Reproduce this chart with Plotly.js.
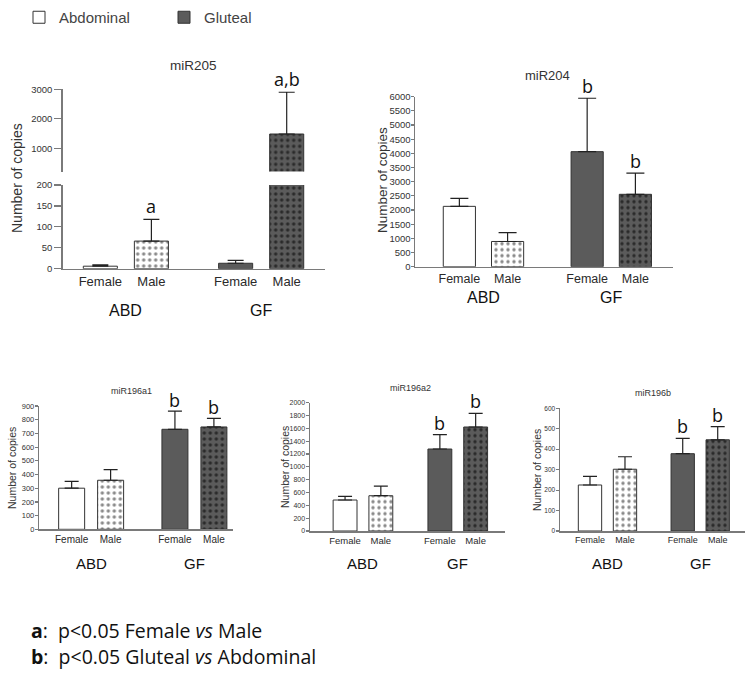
<!DOCTYPE html>
<html>
<head>
<meta charset="utf-8">
<script src="https://cdn.plot.ly/plotly-3.0.1.min.js"></script>
<style>html,body{margin:0;padding:0;background:#fff;}#chart{width:752px;height:682px;}</style>
</head>
<body>
<div id="chart"></div>
<script>
// ---------------- data ----------------
const sexes = ["Female", "Male"];
const tissues = ["ABD", "GF"];
const legendNames = ["Abdominal", "Gluteal"];

const mir205_abd = [6, 66];       const mir205_abd_err = [3, 52];
const mir205_gf  = [13, 1485];    const mir205_gf_err  = [7, 1415];
const mir204_abd = [2130, 890];   const mir204_abd_err = [280, 310];
const mir204_gf  = [4060, 2555];  const mir204_gf_err  = [1885, 745];
const mir196a1_abd = [300, 358];  const mir196a1_abd_err = [50, 77];
const mir196a1_gf  = [730, 747];  const mir196a1_gf_err  = [133, 63];
const mir196a2_abd = [483, 550];  const mir196a2_abd_err = [58, 151];
const mir196a2_gf  = [1278, 1621];const mir196a2_gf_err  = [223, 214];
const mir196b_abd = [225, 302];   const mir196b_abd_err = [42, 61];
const mir196b_gf  = [378, 446];   const mir196b_gf_err  = [75, 64];

const mir205_sig = ["", "a", "", "a,b"];
const mir204_sig = ["", "", "b", "b"];
const mir196a1_sig = ["", "", "b", "b"];
const mir196a2_sig = ["", "", "b", "b"];
const mir196b_sig = ["", "", "b", "b"];

const noteA = "<b>a</b>:  p<0.05 Female <i>vs</i> Male";
const noteB = "<b>b</b>:  p<0.05 Gluteal <i>vs</i> Abdominal";

// ---------------- layout helpers ----------------
const W = 752, H = 682;
const GROUP_STEP = 2.65;
const BAR_W = 0.667;
const fx = p => p / W;
const fy = p => 1 - p / H;
const FONT = "Liberation Sans, Arial, sans-serif";

const pos = (ti) => sexes.map((s, si) => ti * GROUP_STEP + si);
const allPos = tissues.flatMap((t, ti) => pos(ti));
const allTickText = tissues.flatMap(() => sexes);

const styles = [
  {color: "#ffffff", bg: "#ffffff", fg: "#8a8a8a", line: "#333333"},
  {color: "#5b5b5b", bg: "#5b5b5b", fg: "#2a2a2a", line: "#333333"}
];

function barTrace(vals, errs, ti, xa, ya, capW, showLegend) {
  const st = styles[ti];
  return {
    type: "bar", x: pos(ti), y: vals, width: BAR_W,
    xaxis: xa, yaxis: ya,
    name: legendNames[ti], showlegend: showLegend, legendgroup: legendNames[ti],
    marker: {
      color: st.color,
      line: {color: st.line, width: 1},
      pattern: {shape: ["", "."], bgcolor: st.bg, fgcolor: st.fg, size: 6, solidity: 0.25, fillmode: "replace"}
    },
    error_y: {type: "data", symmetric: false, array: errs, arrayminus: errs.map(() => 0),
              color: "#222", thickness: 1.2, width: capW},
    hoverinfo: "skip"
  };
}

function xAxis(d0, d1, r0, r1, fs, anchor) {
  return {domain: [fx(d0), fx(d1)], range: [r0, r1], anchor: anchor,
    tickvals: allPos, ticktext: allTickText, tickfont: {size: fs, color: "#2a2a2a", family: FONT},
    showline: true, linecolor: "#7a7a7a", linewidth: 1.5, ticks: "", showgrid: false, zeroline: false,
    automargin: false, fixedrange: true};
}
function yAxis(b, t, r0, r1, dtick, fs, anchor, tlen, standoff, extra) {
  return Object.assign({domain: [fy(b), fy(t)], range: [r0, r1], anchor: anchor, dtick: dtick,
    tickfont: {size: fs, color: "#333", family: FONT}, showline: true, linecolor: "#7a7a7a", linewidth: 1.5,
    ticks: "outside", ticklen: tlen, tickcolor: "#7a7a7a", tickwidth: 1.2, ticklabelstandoff: standoff,
    showgrid: false, zeroline: false, automargin: false, fixedrange: true}, extra || {});
}

const data = [
  // miR205 lower
  barTrace(mir205_abd, mir205_abd_err, 0, "x", "y", 8, true),
  barTrace(mir205_gf, mir205_gf_err, 1, "x", "y", 8, true),
  // miR205 upper (broken axis)
  barTrace(mir205_abd, mir205_abd_err, 0, "x2", "y2", 8, false),
  barTrace(mir205_gf, mir205_gf_err, 1, "x2", "y2", 8, false),
  // miR204
  barTrace(mir204_abd, mir204_abd_err, 0, "x3", "y3", 9, false),
  barTrace(mir204_gf, mir204_gf_err, 1, "x3", "y3", 9, false),
  // miR196a1
  barTrace(mir196a1_abd, mir196a1_abd_err, 0, "x4", "y4", 7, false),
  barTrace(mir196a1_gf, mir196a1_gf_err, 1, "x4", "y4", 7, false),
  // miR196a2
  barTrace(mir196a2_abd, mir196a2_abd_err, 0, "x5", "y5", 7, false),
  barTrace(mir196a2_gf, mir196a2_gf_err, 1, "x5", "y5", 7, false),
  // miR196b
  barTrace(mir196b_abd, mir196b_abd_err, 0, "x6", "y6", 7, false),
  barTrace(mir196b_gf, mir196b_gf_err, 1, "x6", "y6", 7, false)
];

const annotations = [];
function ann(o) { annotations.push(Object.assign({showarrow: false, font: {family: FONT, size: 12, color: "#222"}}, o)); }

function panelText(cfg) {
  ann({text: cfg.title, xref: "paper", yref: "paper", x: fx(cfg.titleX), y: fy(cfg.titleY),
       xanchor: "center", yanchor: "middle", font: {family: FONT, size: cfg.titleFs, color: "#333"}});
  ann({text: "Number of copies", xref: "paper", yref: "paper", x: fx(cfg.ytX), y: fy(cfg.ytY),
       textangle: -90, xanchor: "center", yanchor: "middle", font: {family: FONT, size: cfg.ytFs, color: "#333"}});
  tissues.forEach((t, ti) => {
    ann({text: t, xref: cfg.xa, yref: "paper", x: ti * GROUP_STEP + 0.5, y: fy(cfg.groupY),
         xanchor: "center", yanchor: "middle", font: {family: FONT, size: cfg.groupFs, color: "#111"}});
  });
  const vals = cfg.abd.concat(cfg.gf), errs = cfg.abdErr.concat(cfg.gfErr);
  cfg.sig.forEach((s, i) => {
    if (!s) return;
    const ya = (cfg.sigAxis && cfg.sigAxis[i]) || cfg.ya;
    ann({text: s, xref: cfg.xa, yref: ya, x: allPos[i], y: vals[i] + errs[i],
         xanchor: "center", yanchor: "bottom", yshift: cfg.sigShift,
         font: {family: "Open Sans, Liberation Sans, sans-serif", size: cfg.sigFs, color: "#111"}});
  });
}

panelText({title: "miR205", titleX: 193, titleY: 65, titleFs: 13.5, ytX: 17, ytY: 178, ytFs: 14,
  groupY: 310, groupFs: 16, xa: "x", ya: "y", abd: mir205_abd, gf: mir205_gf, abdErr: mir205_abd_err, gfErr: mir205_gf_err,
  sig: mir205_sig, sigAxis: [null, "y", null, "y2"], sigFs: 18, sigShift: -1});
panelText({title: "miR204", titleX: 547, titleY: 75, titleFs: 13, ytX: 382, ytY: 180, ytFs: 13.5,
  groupY: 297, groupFs: 16, xa: "x3", ya: "y3", abd: mir204_abd, gf: mir204_gf, abdErr: mir204_abd_err, gfErr: mir204_gf_err,
  sig: mir204_sig, sigFs: 18, sigShift: -2});
panelText({title: "miR196a1", titleX: 131, titleY: 391, titleFs: 9, ytX: 12, ytY: 468, ytFs: 10.5,
  groupY: 563, groupFs: 15, xa: "x4", ya: "y4", abd: mir196a1_abd, gf: mir196a1_gf, abdErr: mir196a1_abd_err, gfErr: mir196a1_gf_err,
  sig: mir196a1_sig, sigFs: 18, sigShift: -3});
panelText({title: "miR196a2", titleX: 410, titleY: 388, titleFs: 9, ytX: 285, ytY: 467, ytFs: 10.5,
  groupY: 563, groupFs: 15, xa: "x5", ya: "y5", abd: mir196a2_abd, gf: mir196a2_gf, abdErr: mir196a2_abd_err, gfErr: mir196a2_gf_err,
  sig: mir196a2_sig, sigFs: 18, sigShift: -2});
panelText({title: "miR196b", titleX: 653, titleY: 393, titleFs: 9, ytX: 537, ytY: 470, ytFs: 10.5,
  groupY: 563, groupFs: 15, xa: "x6", ya: "y6", abd: mir196b_abd, gf: mir196b_gf, abdErr: mir196b_abd_err, gfErr: mir196b_gf_err,
  sig: mir196b_sig, sigFs: 18, sigShift: -2});

// footnotes
const NOTE_FONT = "Open Sans, Lato, sans-serif";
ann({text: noteA, xref: "paper", yref: "paper", x: fx(29), y: fy(630),
     xanchor: "left", yanchor: "middle", align: "left", font: {family: NOTE_FONT, size: 19.5, color: "#111"}});
ann({text: noteB, xref: "paper", yref: "paper", x: fx(29), y: fy(656),
     xanchor: "left", yanchor: "middle", align: "left", font: {family: NOTE_FONT, size: 19.5, color: "#111"}});

const layout = {
  width: W, height: H, margin: {l: 0, r: 0, t: 0, b: 0},
  paper_bgcolor: "#fff", plot_bgcolor: "rgba(0,0,0,0)",
  barmode: "overlay", font: {family: FONT},
  showlegend: true,
  legend: {orientation: "h", x: fx(19), y: fy(1), xanchor: "left", yanchor: "top",
           font: {family: FONT, size: 15, color: "#444"}, entrywidth: 100, bgcolor: "rgba(0,0,0,0)"},
  xaxis:  xAxis(62.7, 325, -0.737, 4.40, 13, "y"),
  yaxis:  yAxis(268.7, 185, 0, 200, 50, 9.5, "x", 7, 0),
  xaxis2: Object.assign(xAxis(62.7, 325, -0.737, 4.40, 13, "y2"), {visible: false, matches: "x"}),
  yaxis2: yAxis(171.5, 89.3, 214, 3000, 1000, 9.5, "x2", 7, 0, {tickvals: [1000, 2000, 3000]}),
  xaxis3: xAxis(415, 673, -0.92, 4.43, 12.5, "y3"),
  yaxis3: yAxis(266.7, 96.7, 0, 6000, 500, 9.5, "x3", 3, -2),
  xaxis4: xAxis(39.3, 233, -0.83, 4.14, 10, "y4"),
  yaxis4: yAxis(529.3, 406, 0, 900, 100, 7.5, "x4", 3, -1),
  xaxis5: xAxis(310, 505, -0.98, 4.47, 9.5, "y5"),
  yaxis5: yAxis(531, 402.7, 0, 2000, 200, 7, "x5", 3, -1),
  xaxis6: xAxis(560, 745, -0.857, 4.43, 9, "y6"),
  yaxis6: yAxis(531, 408.3, 0, 600, 100, 6.5, "x6", 3, -1),
  annotations: annotations
};

Plotly.newPlot("chart", data, layout, {staticPlot: true, displayModeBar: false});
</script>
</body>
</html>
